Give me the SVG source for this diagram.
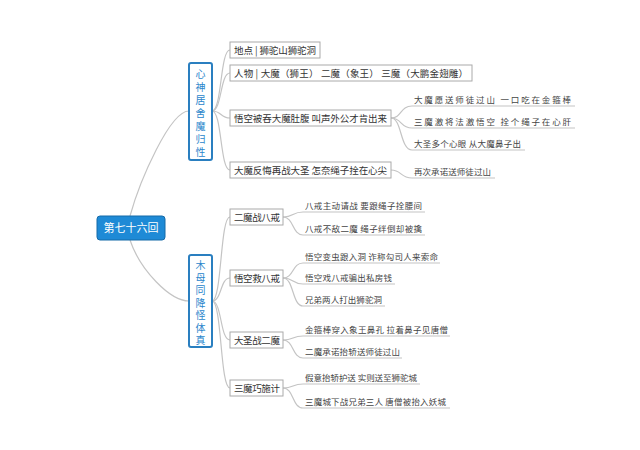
<svg xmlns="http://www.w3.org/2000/svg" width="640" height="450" viewBox="0 0 640 450">
<style>
text{font-family:"Noto Sans CJK SC","Liberation Sans",sans-serif;fill:#333}
.b{fill:#fff;stroke:#aaa;stroke-width:1}
.t{font-size:9.5px}
.l{font-size:8.5px;fill:#444}
.c{fill:none;stroke:#c4c4c4;stroke-width:1.2}
.g{fill:#fff;stroke:#2a7fc0;stroke-width:2}
.v{font-size:10px;fill:#2a86cc;text-anchor:middle}
</style>
<rect width="640" height="450" fill="#fff"/>
<g id="connectors">
<path class="c" d="M130 216 C140 180 170 111 189 111"/>
<path class="c" d="M130 240 C140 270 170 301 189 301"/>
<path class="c" d="M212 111 C222 111 220 50 230 50"/>
<path class="c" d="M212 111 C222 111 220 73 230 73"/>
<path class="c" d="M212 111 C222 111 220 118 230 118"/>
<path class="c" d="M212 111 C222 111 220 170 230 170"/>
<path class="c" d="M391 118 C402 118 400 106 412 106 L575 106"/>
<path class="c" d="M391 118 C402 118 400 128 412 128 L575 128"/>
<path class="c" d="M391 118 C402 118 400 150 412 150 L525 150"/>
<path class="c" d="M391 170 C402 170 400 178 412 178 L495 178"/>
<path class="c" d="M212 301 C222 301 220 217 230 217"/>
<path class="c" d="M212 301 C222 301 220 278 230 278"/>
<path class="c" d="M212 301 C222 301 220 340 230 340"/>
<path class="c" d="M212 301 C222 301 220 388 230 388"/>
<path class="c" d="M283 217 C294 217 292 212 303 212 L425 212"/>
<path class="c" d="M283 217 C294 217 292 235 303 235 L425 235"/>
<path class="c" d="M283 278 C294 278 292 263 303 263 L440 263"/>
<path class="c" d="M283 278 C294 278 292 284 303 284 L395 284"/>
<path class="c" d="M283 278 C294 278 292 306 303 306 L385 306"/>
<path class="c" d="M283 340 C294 340 292 336 303 336 L450 336"/>
<path class="c" d="M283 340 C294 340 292 358 303 358 L402 358"/>
<path class="c" d="M283 388 C294 388 292 384 303 384 L420 384"/>
<path class="c" d="M283 388 C294 388 292 408 303 408 L450 408"/>
</g>
<g id="root"><rect x="97" y="216" width="68" height="24" rx="3" fill="#1e8ad6" stroke="#156aa8"/><text x="131" y="232" font-size="11" text-anchor="middle" style="fill:#fff">第七十六回</text></g>
<g id="g1"><rect class="g" x="189" y="63" width="23" height="97" rx="2"/>
<text class="v"><tspan x="200.5" y="78">心</tspan><tspan x="200.5" y="91">神</tspan><tspan x="200.5" y="104">居</tspan><tspan x="200.5" y="117">舍</tspan><tspan x="200.5" y="130">魔</tspan><tspan x="200.5" y="143">归</tspan><tspan x="200.5" y="156">性</tspan></text></g>
<g id="g2"><rect class="g" x="189" y="255" width="23" height="92" rx="2"/>
<text class="v"><tspan x="200.5" y="269">木</tspan><tspan x="200.5" y="281.5">母</tspan><tspan x="200.5" y="294">同</tspan><tspan x="200.5" y="306.5">降</tspan><tspan x="200.5" y="319">怪</tspan><tspan x="200.5" y="331.5">体</tspan><tspan x="200.5" y="344">真</tspan></text></g>
<g id="n1"><rect class="b" x="230" y="42" width="90" height="16"/><text class="t" x="234" y="54" textLength="82">地点 | 狮驼山狮驼洞</text></g>
<g id="n2"><rect class="b" x="230" y="65" width="242" height="16"/><text class="t" x="234" y="77" textLength="234">人物 | 大魔（狮王） 二魔（象王） 三魔（大鹏金翅雕）</text></g>
<g id="n3"><rect class="b" x="230" y="110" width="161" height="16"/><text class="t" x="234" y="122" textLength="153">悟空被吞大魔肚腹 叫声外公才肯出来</text></g>
<g id="n4"><rect class="b" x="230" y="162" width="161" height="16"/><text class="t" x="234" y="174" textLength="153">大魔反悔再战大圣 怎奈绳子拴在心尖</text></g>
<g id="leaves1">
<text class="l" x="414" y="103" textLength="157">大魔愿送师徒过山 一口吃在金箍棒</text>
<text class="l" x="414" y="125" textLength="157">三魔激将法激悟空 拴个绳子在心肝</text>
<text class="l" x="414" y="147" textLength="107">大圣多个心眼 从大魔鼻子出</text>
<text class="l" x="414" y="175" textLength="77">再次承诺送师徒过山</text>
</g>
<g id="n5"><rect class="b" x="230" y="209" width="53" height="16"/><text class="t" x="234" y="221" textLength="46">二魔战八戒</text></g>
<g id="n6"><rect class="b" x="230" y="270" width="53" height="16"/><text class="t" x="234" y="282" textLength="46">悟空救八戒</text></g>
<g id="n7"><rect class="b" x="230" y="332" width="53" height="16"/><text class="t" x="234" y="344" textLength="46">大圣战二魔</text></g>
<g id="n8"><rect class="b" x="230" y="380" width="53" height="16"/><text class="t" x="234" y="392" textLength="46">三魔巧施计</text></g>
<g id="leaves2">
<text class="l" x="305" y="209" textLength="117">八戒主动请战 要跟绳子拴腰间</text>
<text class="l" x="305" y="232" textLength="117">八戒不敌二魔 绳子绊倒却被擒</text>
<text class="l" x="305" y="260" textLength="133">悟空变虫跟入洞 诈称勾司人来索命</text>
<text class="l" x="305" y="281" textLength="87">悟空戏八戒骗出私房钱</text>
<text class="l" x="305" y="303" textLength="77">兄弟两人打出狮驼洞</text>
<text class="l" x="305" y="333" textLength="143">金箍棒穿入象王鼻孔 拉着鼻子见唐僧</text>
<text class="l" x="305" y="355" textLength="95">二魔承诺抬轿送师徒过山</text>
<text class="l" x="305" y="381" textLength="112">假意抬轿护送 实则送至狮驼城</text>
<text class="l" x="305" y="405" textLength="141">三魔城下战兄弟三人 唐僧被抬入妖城</text>
</g>
</svg>
